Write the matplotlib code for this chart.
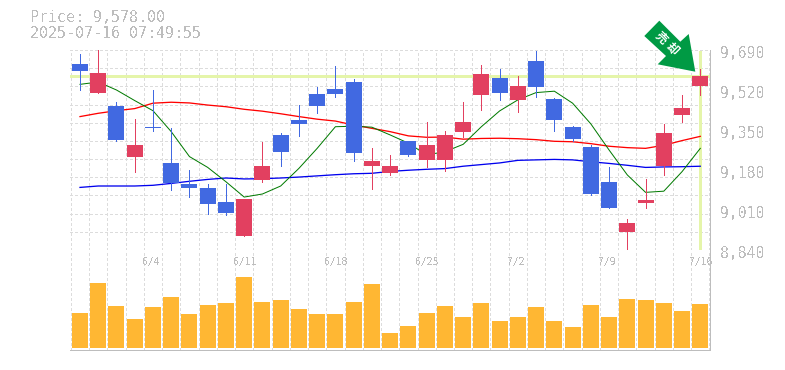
import numpy as np
import matplotlib
matplotlib.use("Agg")
import matplotlib.pyplot as plt
from matplotlib.patches import Polygon

# ---- data -------------------------------------------------------------
opens = [9601, 9592, 9308, 9286, 9359, 9125, 9104, 9036, 8997, 9057, 9197, 9257,
         9376, 9452, 9503, 9252, 9218, 9197, 9244, 9286, 9329, 9384, 9588, 9507,
         9537, 9533, 9393, 9312, 9078, 9019, 8955, 9053, 9337, 9444, 9580]
closes = [9630, 9509, 9452, 9235, 9363, 9210, 9121, 9104, 9044, 8900, 9138, 9329,
          9393, 9503, 9524, 9554, 9197, 9167, 9303, 9223, 9223, 9342, 9499, 9571,
          9478, 9643, 9482, 9363, 9278, 9129, 8917, 9040, 9197, 9414, 9537]
highs = [9673, 9690, 9469, 9397, 9520, 9359, 9180, 9121, 9121, 9057, 9299, 9337,
         9456, 9533, 9622, 9567, 9274, 9244, 9303, 9384, 9346, 9469, 9626, 9609,
         9580, 9686, 9486, 9367, 9286, 9193, 8972, 9142, 9376, 9499, 9609]
lows = [9520, 9509, 9303, 9172, 9346, 9095, 9065, 8993, 8989, 8900, 9129, 9197,
        9325, 9422, 9490, 9218, 9099, 9159, 9240, 9193, 9176, 9320, 9435, 9478,
        9427, 9490, 9346, 9303, 9074, 9019, 8840, 9019, 9159, 9384, 9499]
ma_short = [9544, 9554, 9520, 9475, 9432, 9343, 9237, 9191, 9130, 9065, 9078, 9112,
            9187, 9272, 9364, 9366, 9362, 9329, 9294, 9244, 9258, 9289, 9364, 9431,
            9478, 9509, 9515, 9464, 9376, 9265, 9159, 9085, 9090, 9173, 9272]
ma_mid = [9407, 9421, 9432, 9441, 9464, 9468, 9465, 9456, 9449, 9438, 9430, 9419,
          9407, 9396, 9388, 9371, 9357, 9343, 9325, 9319, 9320, 9311, 9314, 9315,
          9313, 9309, 9302, 9300, 9292, 9281, 9275, 9272, 9285, 9305, 9323]
ma_long = [9106, 9112, 9112, 9112, 9115, 9123, 9132, 9140, 9146, 9142, 9143, 9146,
           9150, 9155, 9160, 9164, 9166, 9174, 9179, 9183, 9186, 9196, 9203, 9210,
           9221, 9223, 9225, 9223, 9215, 9208, 9200, 9191, 9193, 9194, 9196]
volumes = [35, 65, 42, 29, 41, 51, 34, 43, 45, 71, 46, 48, 39, 34, 34, 46, 64, 15,
           22, 35, 42, 31, 45, 27, 31, 41, 27, 21, 43, 31, 49, 48, 45, 37, 44]
date_idx = [4, 9, 14, 19, 24, 29, 34]
date_labels = ["6/4", "6/11", "6/18", "6/25", "7/2", "7/9", "7/16"]
price_ticks = [9690, 9520, 9350, 9180, 9010, 8840]
price_labels = ["9,690", "9,520", "9,350", "9,180", "9,010", "8,840"]
last_price = 9578
title_lines = ["Price: 9,578.00", "2025-07-16 07:49:55"]
signal_chars = ["売", "却"]

# ---- style ------------------------------------------------------------
W, H = 785, 370
FONT = "DejaVu Sans Mono"
GRAY = "#bdbdbd"
GRID = "#dcdcdc"
BLUE = "#4169e1"
RED = "#e24060"
HILITE = "#e5f5aa"
ORANGE = "#ffb733"
px = 0.72  # one pixel in points at 100 dpi
plt.rcParams["text.antialiased"] = False

fig = plt.figure(figsize=(W / 100, H / 100), dpi=100, facecolor="white")
def box(l, t, r, b):
    return [l / W, 1 - b / H, (r - l) / W, (b - t) / H]
ax = fig.add_axes(box(70, 50, 710, 250))
av = fig.add_axes(box(70, 250, 710, 350), sharex=ax)

n = len(opens)
xs = np.arange(n)
step = 18.244
ax.set_xlim(-10 / step, 630 / step)
ax.set_ylim(8840, 9690)
av.set_ylim(-2, 98)

dash = (0, (2.5, 2.5))
for a in (ax, av):
    a.set_facecolor("white")
    a.tick_params(length=0, labelbottom=False, labelleft=False)
    a.set_xticks([])
    a.set_yticks([])
    for s in ("top", "left"):
        a.spines[s].set_visible(False)
    for s in ("right", "bottom"):
        a.spines[s].set_color(GRAY)
        a.spines[s].set_linewidth(1.0 * px)
        a.spines[s].set_antialiased(False)
    for k in range(n + 1):
        a.axvline(k - 0.5, color=GRID, lw=1.0 * px, ls=dash, zorder=1, antialiased=False)
for k in range(1, 12):
    ax.axhline(8840 + k * 850 / 11, color=GRID, lw=1.0 * px, ls=dash, zorder=1,
               antialiased=False, clip_on=False)

# highlight lines for the last price
ax.axhline(last_price, color=HILITE, lw=3.0 * px, zorder=2, antialiased=False)
ax.vlines(xs[-1], 8844, 9686, color=HILITE, lw=3.0 * px, zorder=2, antialiased=False)

# moving averages
ax.plot(xs, ma_long, color="#0000ee", lw=1.3 * px, zorder=3)
ax.plot(xs, ma_mid, color="#ff0000", lw=1.3 * px, zorder=3)
ax.plot(xs, ma_short, color="#007a00", lw=1.0 * px, zorder=3)

# candles
cols = [BLUE if c > o else RED for o, c in zip(opens, closes)]
ax.vlines(xs, lows, highs, colors=cols, lw=1.0 * px, zorder=4, antialiased=False)
body_bot = [min(o, c) for o, c in zip(opens, closes)]
body_h = [abs(o - c) for o, c in zip(opens, closes)]
ax.bar(xs, body_h, bottom=body_bot, width=16 / step, color=cols, linewidth=0, zorder=5)

# volume
av.bar(xs, volumes, width=16 / step, color=ORANGE, linewidth=0, zorder=3)

# labels
for v, s in zip(price_ticks, price_labels):
    ax.annotate(s, (1, v), xycoords=ax.get_yaxis_transform(), xytext=(10 * px, -3 * px),
                textcoords="offset points", va="center", ha="left",
                family=FONT, fontsize=10.6, color=GRAY, annotation_clip=False)
for i, s in zip(date_idx, date_labels):
    av.annotate(s, (i, 1), xycoords=av.get_xaxis_transform(), xytext=(-11 * px, -12 * px),
                textcoords="offset points", va="center", ha="left",
                family=FONT, fontsize=7, color=GRAY, annotation_clip=False)
for y, s in zip((18, 33), title_lines):
    fig.text(30 / W, 1 - y / H, s, family=FONT, fontsize=10.8, color=GRAY, va="center", ha="left")

# signal arrow
arrow_px = [(644.3, 36), (659.3, 20.7), (680.3, 41.7), (688.7, 34), (695.3, 71.7),
            (657.7, 64.3), (666, 56)]
fig.add_artist(Polygon([(x / W, 1 - y / H) for x, y in arrow_px], closed=True,
                       transform=fig.transFigure, facecolor="#009a44", edgecolor="none", zorder=10))
for (cx, cy), ch in zip([(660.7, 38.3), (671.7, 49.3)], signal_chars):
    fig.text(cx / W, 1 - cy / H, ch, family=["Noto Sans CJK JP", "DejaVu Sans"],
             fontsize=8.5, fontweight="bold", color="white", rotation=-45, antialiased=True,
             rotation_mode="anchor", ha="center", va="center", zorder=11)

fig.savefig("out.png", dpi=100, facecolor="white")
